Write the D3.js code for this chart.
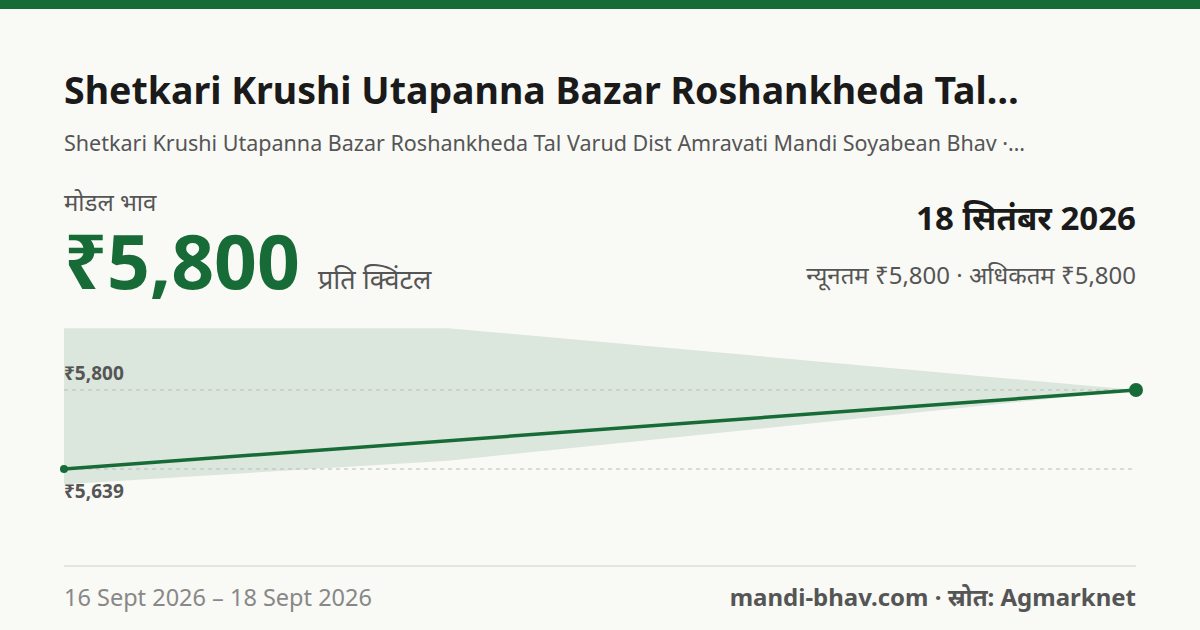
<!DOCTYPE html>
<html><head><meta charset="utf-8">
<script src="https://cdn.jsdelivr.net/npm/d3@7"></script>
<style>body{margin:0;background:#f9f9f5;font-family:"Noto Sans",sans-serif}</style>
</head><body><svg id="c" width="1200" height="630"></svg>
<script>
const lineDates = ["2026-09-16T00:00", "2026-09-18T00:00"];
const lineValues = [5639, 5800];
const bandDates = ["2026-09-16T00:00", "2026-09-16T17:10", "2026-09-18T00:00"];
const bandMax = [5926, 5926, 5800];
const bandMin = [5608, 5656, 5800];
const refTicks = [5800, 5639];
const tickLabels = ["₹5,800", "₹5,639"];

const svg = d3.select("#c");
const F = '"Noto Sans",sans-serif';
svg.append("rect").attr("width",1200).attr("height",630).attr("fill","#f9f9f5");
svg.append("rect").attr("width",1200).attr("height",9).attr("fill","#176b37");
const t=(x,y,s,size,w,fill,anchor)=>svg.append("text").attr("x",x).attr("y",y).text(s)
  .attr("font-size",size).attr("font-weight",w).attr("fill",fill).attr("text-anchor",anchor||"start").attr("font-family",F);
t(64,104,"Shetkari Krushi Utapanna Bazar Roshankheda Tal…",37.5,700,"#1a1a1a");
t(64,151,"Shetkari Krushi Utapanna Bazar Roshankheda Tal Varud Dist Amravati Mandi Soyabean Bhav ·…",21.5,400,"#555");
t(64,211,"मोडल भाव",24,400,"#555");
t(64,289,"₹5,800",75,700,"#176b37");
t(318,289,"प्रति क्विंटल",27,400,"#555");
t(1136,230,"18 सितंबर 2026",33,700,"#1a1a1a","end");
t(1136,284,"न्यूनतम ₹5,800 · अधिकतम ₹5,800",24,400,"#555","end");

const p=d3.timeParse("%Y-%m-%dT%H:%M");
const x=d3.scaleTime().domain([p(lineDates[0]),p(lineDates[1])]).range([64,1136]);
const y=d3.scaleLinear().domain([5639,5800]).range([469,390]);
const band=bandDates.map((d,i)=>({d:p(d),hi:bandMax[i],lo:bandMin[i]}));
svg.append("path").datum(band).attr("fill","#176b37").attr("fill-opacity",0.13)
  .attr("d",d3.area().x(d=>x(d.d)).y0(d=>y(d.lo)).y1(d=>y(d.hi)));
refTicks.forEach((v,i)=>{
  svg.append("line").attr("x1",64).attr("x2",1136).attr("y1",y(v)).attr("y2",y(v))
    .attr("stroke","#bbb").attr("stroke-dasharray","4,4");
});
t(64,y(refTicks[0])-10,tickLabels[0],19,700,"#555");
t(64,y(refTicks[1])+29,tickLabels[1],19,700,"#555");
const ld=lineDates.map((d,i)=>({d:p(d),v:lineValues[i]}));
svg.append("path").datum(ld).attr("fill","none").attr("stroke","#176b37").attr("stroke-width",3.5)
  .attr("d",d3.line().x(d=>x(d.d)).y(d=>y(d.v)));
svg.append("circle").attr("cx",x(ld[0].d)).attr("cy",y(ld[0].v)).attr("r",4).attr("fill","#176b37");
svg.append("circle").attr("cx",x(ld[1].d)).attr("cy",y(ld[1].v)).attr("r",7).attr("fill","#176b37");
svg.append("line").attr("x1",64).attr("x2",1136).attr("y1",566).attr("y2",566).attr("stroke","#ddd").attr("stroke-width",1.5);
t(64,606,"16 Sept 2026 – 18 Sept 2026",23.5,400,"#888");
t(1136,606,"mandi-bhav.com · स्रोत: Agmarknet",24,700,"#555","end");
</script></body></html>
